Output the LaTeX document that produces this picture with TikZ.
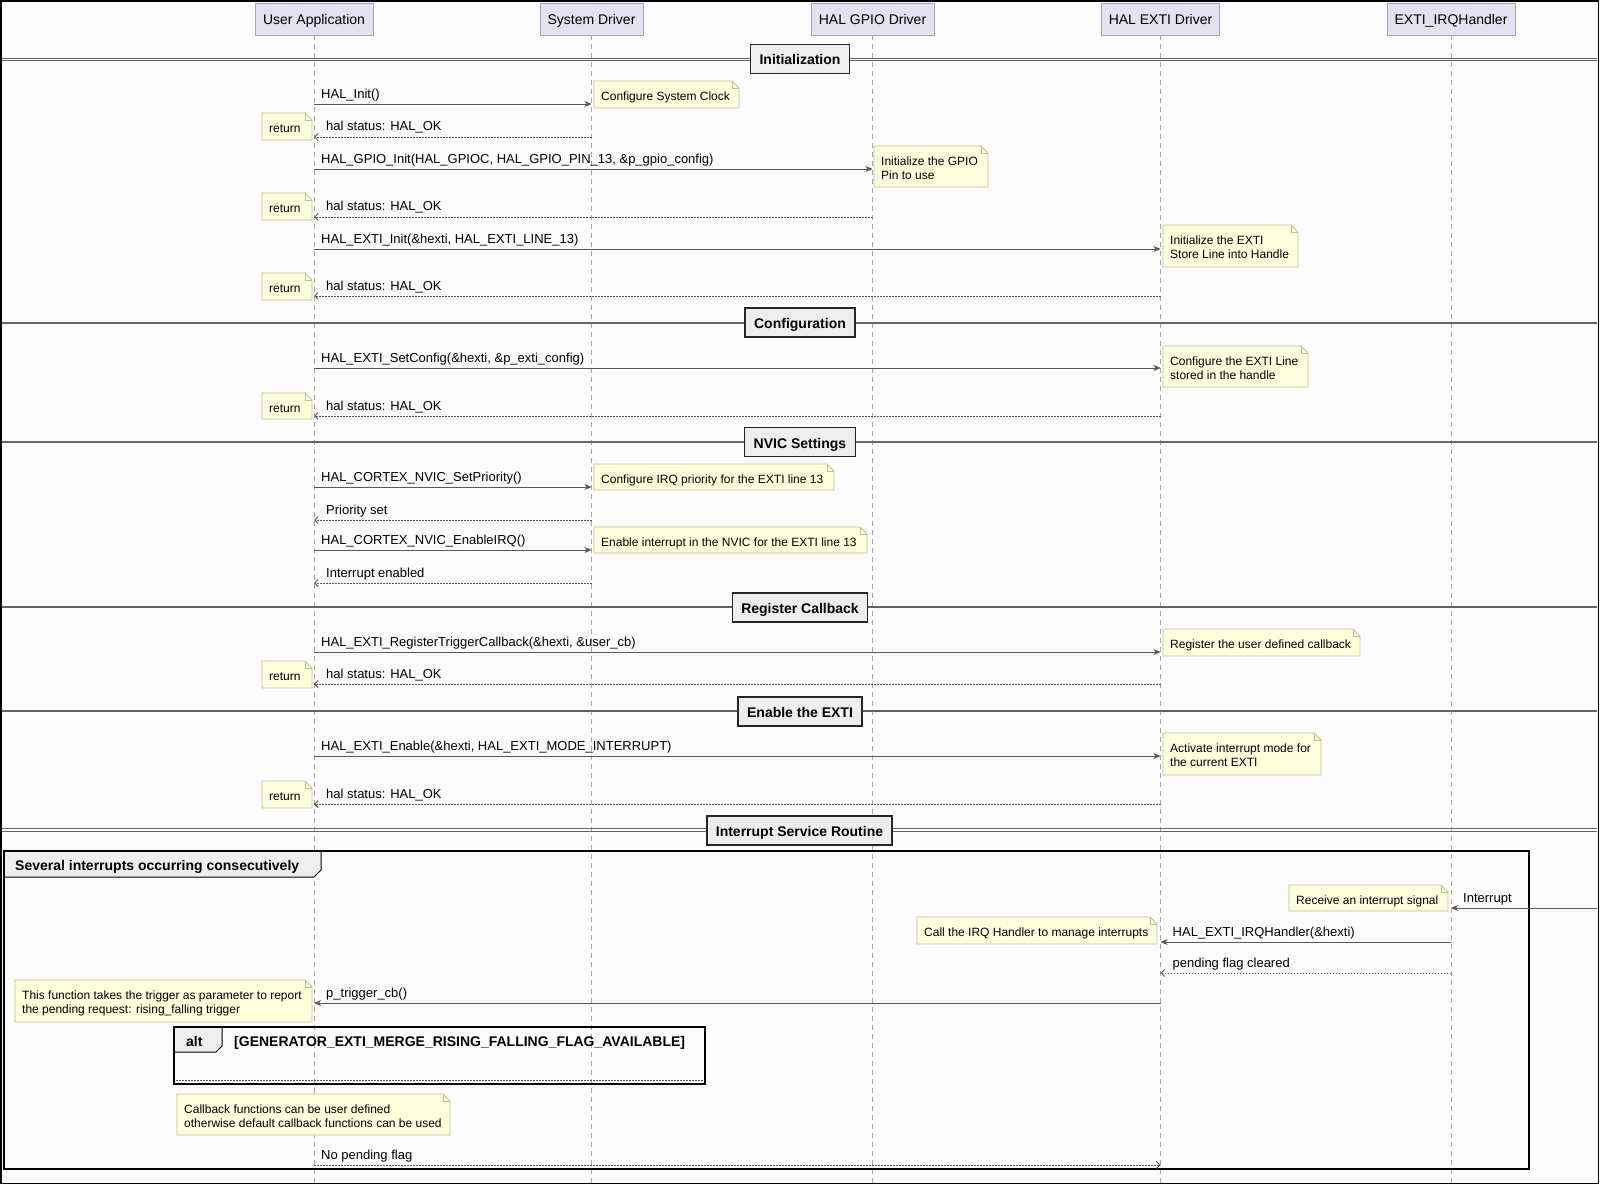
\documentclass[tikz,border=0pt]{standalone}
\usepackage{fontspec}
\setmainfont{Liberation Sans}
\usetikzlibrary{arrows.meta,calc}
\definecolor{bg}{RGB}{252,252,252}
\definecolor{partfill}{RGB}{226,226,240}
\definecolor{partdraw}{RGB}{165,165,182}
\definecolor{notefill}{RGB}{254,255,221}
\definecolor{notedraw}{RGB}{190,190,150}
\definecolor{arrowc}{RGB}{88,88,88}
\definecolor{lifec}{RGB}{165,165,165}
\definecolor{sepfill}{RGB}{238,238,238}
\definecolor{sepline}{RGB}{100,100,100}
\tikzset{
 participant/.style={draw=partdraw, fill=partfill, line width=0.8pt, inner sep=0pt, minimum height=32pt, text height=12.5pt, text depth=0.5pt, font=\fontsize{14}{16}\selectfont, text=black},
 lifeline/.style={draw=lifec, line width=0.8pt, dash pattern=on 5pt off 4pt},
 callarrow/.style={draw=arrowc, line width=0.9pt, -{Stealth[length=7pt,width=6pt,inset=2pt]}},
 retarrow/.style={draw=arrowc, line width=0.9pt, dash pattern=on 1.5pt off 1.5pt, -{Straight Barb[length=3.5pt,width=7pt]}},
 msglabel/.style={font=\fontsize{13}{15}\selectfont, inner sep=0pt, anchor=base west},
 noteshape/.style={draw=notedraw, fill=notefill, line width=0.8pt},
 notetext/.style={font=\fontsize{12}{14.7}\selectfont, inner sep=0pt, align=left, anchor=north west},
 sepbox/.style={draw=black!85, fill=sepfill, line width=1.4pt, font=\bfseries\fontsize{14}{16}\selectfont, inner xsep=9pt, inner ysep=0pt, minimum height=29pt, text height=12.5pt, text depth=0.5pt},
 sepsingle/.style={draw=sepline, line width=2pt},
 septhin/.style={draw=sepline, line width=1.1pt},
 framebox/.style={draw=black, line width=2.8pt},
 tabshape/.style={draw=black, fill=sepfill, line width=1pt},
 framelabel/.style={font=\bfseries\fontsize{14}{16}\selectfont, inner sep=0pt, anchor=base west},
}
\newcommand\notebox[6]{%
 \path[noteshape] (#2,#3) -- (#4-7,#3) -- (#4,#3+7) -- (#4,#5) -- (#2,#5) -- cycle;
 \draw[noteshape,fill=none] (#4-7,#3) -- (#4-7,#3+7) -- (#4,#3+7);
 \node[notetext] (#1) at (#2+7,#3+9) {\rule{0pt}{10pt}#6};
}
\newcommand\lbl[5]{\node[msglabel] (#1) at ($(#2 |- 0,#3)+(#4,0)$) {#5};}
\begin{document}
\begin{tikzpicture}[x=1pt,y=-1pt]
\useasboundingbox (0,0) rectangle (1600,1185);
\fill[bg] (0,0) rectangle (1600,1185);
\draw[black, line width=1.5pt] (1,1) rectangle (1598.5,1183.5);

% participants
\node[participant, minimum width=118pt] (ua) at (314,19) {User Application};
\node[participant, minimum width=103pt] (sd) at (591.5,19) {System Driver};
\node[participant, minimum width=123pt] (gpio) at (872.5,19) {HAL GPIO Driver};
\node[participant, minimum width=118pt] (exti) at (1160.5,19) {HAL EXTI Driver};
\node[participant, minimum width=128pt] (irq) at (1451,19) {EXTI\_IRQHandler};

% lifelines
\foreach \p in {ua,sd,gpio,exti,irq}{\draw[lifeline] (\p.south) -- (\p |- 0,1183);}

% separators
\draw[septhin] (2,58.4) -- (1597,58.4);
\draw[septhin] (2,60.6) -- (1597,60.6);
\node[sepbox] (s1) at (800,59) {Initialization};
\draw[sepsingle] (2,323) -- (1597,323);
\node[sepbox] (s2) at (800,322.5) {Configuration};
\draw[sepsingle] (2,442) -- (1597,442);
\node[sepbox] (s3) at (800,442) {NVIC Settings};
\draw[sepsingle] (2,607) -- (1597,607);
\node[sepbox] (s4) at (800,607.5) {Register Callback};
\draw[sepsingle] (2,711) -- (1597,711);
\node[sepbox] (s5) at (800,711.5) {Enable the EXTI};
\draw[septhin] (2,828.9) -- (1597,828.9);
\draw[septhin] (2,831.1) -- (1597,831.1);
\node[sepbox] (s6) at (799.5,830.5) {Interrupt Service Routine};

% loop frame
\path[tabshape] (4,851) -- (321,851) -- (321,870) -- (314,877) -- (4,877) -- cycle;
\draw[framebox] (4,851) rectangle (1529,1169);
\node[framelabel] (loopl) at (15,870.5) {Several interrupts occurring consecutively};

% alt frame
\path[tabshape] (174,1027) -- (222,1027) -- (222,1046) -- (216,1052) -- (174,1052) -- cycle;
\draw[framebox] (174,1027) rectangle (705,1084);
\draw[draw=arrowc, line width=0.8pt, dash pattern=on 1.5pt off 1.5pt] (176,1080.5) -- (703,1080.5);
\node[framelabel] (altl) at (186,1046) {alt};
\node[framelabel] (altc) at (234,1046) {[GENERATOR\_EXTI\_MERGE\_RISING\_FALLING\_FLAG\_AVAILABLE]};

% messages: Initialization
\draw[callarrow] (ua |- 0,104) -- (sd |- 0,104);
\lbl{m1}{ua}{98.5}{7}{HAL\_Init()}
\draw[retarrow] (sd |- 0,137) -- (ua |- 0,137);
\lbl{m2}{ua}{131}{12}{hal status: HAL\_OK}
\draw[callarrow] (ua |- 0,169) -- (gpio |- 0,169);
\lbl{m3}{ua}{163.5}{7}{HAL\_GPIO\_Init(HAL\_GPIOC, HAL\_GPIO\_PIN\_13, \&p\_gpio\_config)}
\draw[retarrow] (gpio |- 0,217) -- (ua |- 0,217);
\lbl{m4}{ua}{211}{12}{hal status: HAL\_OK}
\draw[callarrow] (ua |- 0,249) -- (exti |- 0,249);
\lbl{m5}{ua}{243.5}{7}{HAL\_EXTI\_Init(\&hexti, HAL\_EXTI\_LINE\_13)}
\draw[retarrow] (exti |- 0,296) -- (ua |- 0,296);
\lbl{m6}{ua}{290}{12}{hal status: HAL\_OK}

% Configuration
\draw[callarrow] (ua |- 0,368) -- (exti |- 0,368);
\lbl{m7}{ua}{362.5}{7}{HAL\_EXTI\_SetConfig(\&hexti, \&p\_exti\_config)}
\draw[retarrow] (exti |- 0,416) -- (ua |- 0,416);
\lbl{m8}{ua}{410}{12}{hal status: HAL\_OK}

% NVIC
\draw[callarrow] (ua |- 0,487) -- (sd |- 0,487);
\lbl{m9}{ua}{481.5}{7}{HAL\_CORTEX\_NVIC\_SetPriority()}
\draw[retarrow] (sd |- 0,520) -- (ua |- 0,520);
\lbl{m10}{ua}{514}{12}{Priority set}
\draw[callarrow] (ua |- 0,550) -- (sd |- 0,550);
\lbl{m11}{ua}{544.5}{7}{HAL\_CORTEX\_NVIC\_EnableIRQ()}
\draw[retarrow] (sd |- 0,583) -- (ua |- 0,583);
\lbl{m12}{ua}{577}{12}{Interrupt enabled}

% Register callback
\draw[callarrow] (ua |- 0,652) -- (exti |- 0,652);
\lbl{m13}{ua}{646.5}{7}{HAL\_EXTI\_RegisterTriggerCallback(\&hexti, \&user\_cb)}
\draw[retarrow] (exti |- 0,684) -- (ua |- 0,684);
\lbl{m14}{ua}{678}{12}{hal status: HAL\_OK}

% Enable
\draw[callarrow] (ua |- 0,756) -- (exti |- 0,756);
\lbl{m15}{ua}{750.5}{7}{HAL\_EXTI\_Enable(\&hexti, HAL\_EXTI\_MODE\_INTERRUPT)}
\draw[retarrow] (exti |- 0,804) -- (ua |- 0,804);
\lbl{m16}{ua}{798}{12}{hal status: HAL\_OK}

% ISR
\coordinate (edge) at (1597,908);
\draw[callarrow] (edge) -- (irq |- edge);
\lbl{m17}{irq}{902.5}{12}{Interrupt}
\draw[callarrow] (irq |- 0,942) -- (exti |- 0,942);
\lbl{m18}{exti}{936.5}{12}{HAL\_EXTI\_IRQHandler(\&hexti)}
\draw[retarrow] (irq |- 0,973) -- (exti |- 0,973);
\lbl{m19}{exti}{967}{12}{pending flag cleared}
\draw[callarrow] (exti |- 0,1003) -- (ua |- 0,1003);
\lbl{m20}{ua}{997.5}{12}{p\_trigger\_cb()}
\draw[retarrow] (ua |- 0,1165) -- (exti |- 0,1165);
\lbl{m21}{ua}{1159}{7}{No pending flag}

% notes
\notebox{n1}{594}{81}{739}{108}{Configure System Clock}
\notebox{r1}{262}{113}{312}{140}{return}
\notebox{n2}{874}{146}{988}{187}{Initialize the GPIO\\Pin to use}
\notebox{r2}{262}{193}{312}{220}{return}
\notebox{n3}{1163}{225}{1298}{267}{Initialize the EXTI\\Store Line into Handle}
\notebox{r3}{262}{273}{312}{300}{return}
\notebox{n4}{1163}{346}{1308}{387}{Configure the EXTI Line\\stored in the handle}
\notebox{r4}{262}{393}{312}{419}{return}
\notebox{n5}{594}{464}{834}{490}{Configure IRQ priority for the EXTI line 13}
\notebox{n6}{594}{527}{867}{553}{Enable interrupt in the NVIC for the EXTI line 13}
\notebox{n7}{1163}{629}{1360}{656}{Register the user defined callback}
\notebox{r5}{262}{661}{312}{688}{return}
\notebox{n8}{1163}{733}{1321}{775}{Activate interrupt mode for\\the current EXTI}
\notebox{r6}{262}{781}{312}{808}{return}
\notebox{n9}{1289}{885}{1448}{911}{Receive an interrupt signal}
\notebox{n10}{917}{917}{1157}{944}{Call the IRQ Handler to manage interrupts}
\notebox{n11}{15}{980}{312}{1022}{This function takes the trigger as parameter to report\\the pending request: rising\_falling trigger}
\notebox{n12}{177}{1094}{450}{1135}{Callback functions can be user defined\\otherwise default callback functions can be used}
\end{tikzpicture}
\end{document}
